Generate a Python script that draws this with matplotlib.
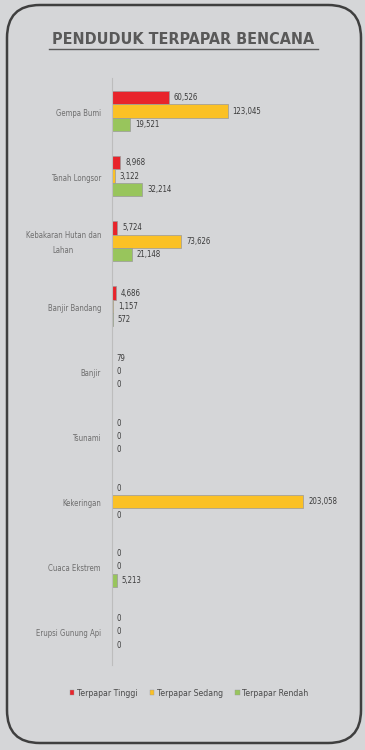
import matplotlib
matplotlib.use("Agg")
import matplotlib.pyplot as plt
from matplotlib.patches import FancyBboxPatch, Patch
import numpy as np

categories = ["Gempa Bumi", "Tanah Longsor", "Kebakaran Hutan dan\nLahan", "Banjir Bandang",
              "Banjir", "Tsunami", "Kekeringan", "Cuaca Ekstrem", "Erupsi Gunung Api"]
tinggi = [60526, 8968, 5724, 4686, 79, 0, 0, 0, 0]
sedang = [123045, 3122, 73626, 1157, 0, 0, 203058, 0, 0]
rendah = [19521, 32214, 21148, 572, 0, 0, 0, 5213, 0]
series_names = ["Terpapar Tinggi", "Terpapar Sedang", "Terpapar Rendah"]
colors = ["#e8242b", "#fbc125", "#98c55c"]
title = "PENDUDUK TERPAPAR BENCANA"

bg = "#d5d6d8"
fig = plt.figure(figsize=(3.65, 7.5), dpi=100, facecolor=bg)

# rounded frame
W, H = 365, 750
box = FancyBboxPatch((7 / W, 7 / H), (361 - 7) / W, (745 - 7) / H,
                     boxstyle="round,pad=0,rounding_size=0.09",
                     transform=fig.transFigure, facecolor="none", edgecolor="#3f3f3f",
                     linewidth=1.8, mutation_aspect=W / H)
fig.patches.append(box)

fig.text(183 / W, 1 - 40 / H, title, ha="center", va="center", fontsize=11.5,
         fontweight="bold", color="#595959", fontstretch="condensed")
fig.add_artist(plt.Line2D([49 / W, 318 / W], [1 - 49 / H, 1 - 49 / H],
                          transform=fig.transFigure, color="#595959", lw=1.0))

ax = fig.add_axes([112 / W, 1 - 664.5 / H, 228 / W, (664.5 - 78.5) / H])
ax.set_facecolor("none")
ax.set_zorder(3)
y = np.arange(len(categories))
h = 0.205
for vals, off, c in zip([tinggi, sedang, rendah], [-h, 0, h], colors):
    ax.barh(y + off, vals, height=h, color=c, edgecolor="#9a9a9a", linewidth=0.5)
    for yi, v in zip(y, vals):
        ax.text(v + 5000, yi + off, f"{v:,}", va="center", ha="left",
                fontsize=5.6, color="#3a3a3a", fontstretch="condensed")

ax.set_xlim(0, 242000)
ax.set_ylim(len(categories) - 0.5, -0.5)
ax.set_yticks(y)
ax.set_yticklabels([""] * len(categories))
ax.tick_params(axis="y", length=0)
for yi, cat in zip(y, categories):
    ax.annotate(cat, xy=(0, yi), xycoords=("axes fraction", "data"),
                xytext=(-11, -2), textcoords="offset pixels",
                ha="right", va="center", multialignment="center", linespacing=1.9,
                fontsize=5.6, color="#6e6e6e", fontstretch="condensed")
ax.set_xticks([])
for s in ["top", "right", "bottom"]:
    ax.spines[s].set_visible(False)
ax.spines["left"].set_color("#bdbdbd")
ax.spines["left"].set_linewidth(0.8)

handles = [Patch(facecolor=c, edgecolor="#9a9a9a", linewidth=0.3) for c in colors]
fig.legend(handles, series_names, loc="center", bbox_to_anchor=(189 / W, 1 - 693 / H),
           ncol=3, frameon=False, fontsize=5.6, handlelength=0.6, handleheight=0.6,
           handletextpad=0.3, columnspacing=1.6, labelcolor="#4a4a4a")

fig.savefig("out.png", dpi=100, facecolor=bg)
